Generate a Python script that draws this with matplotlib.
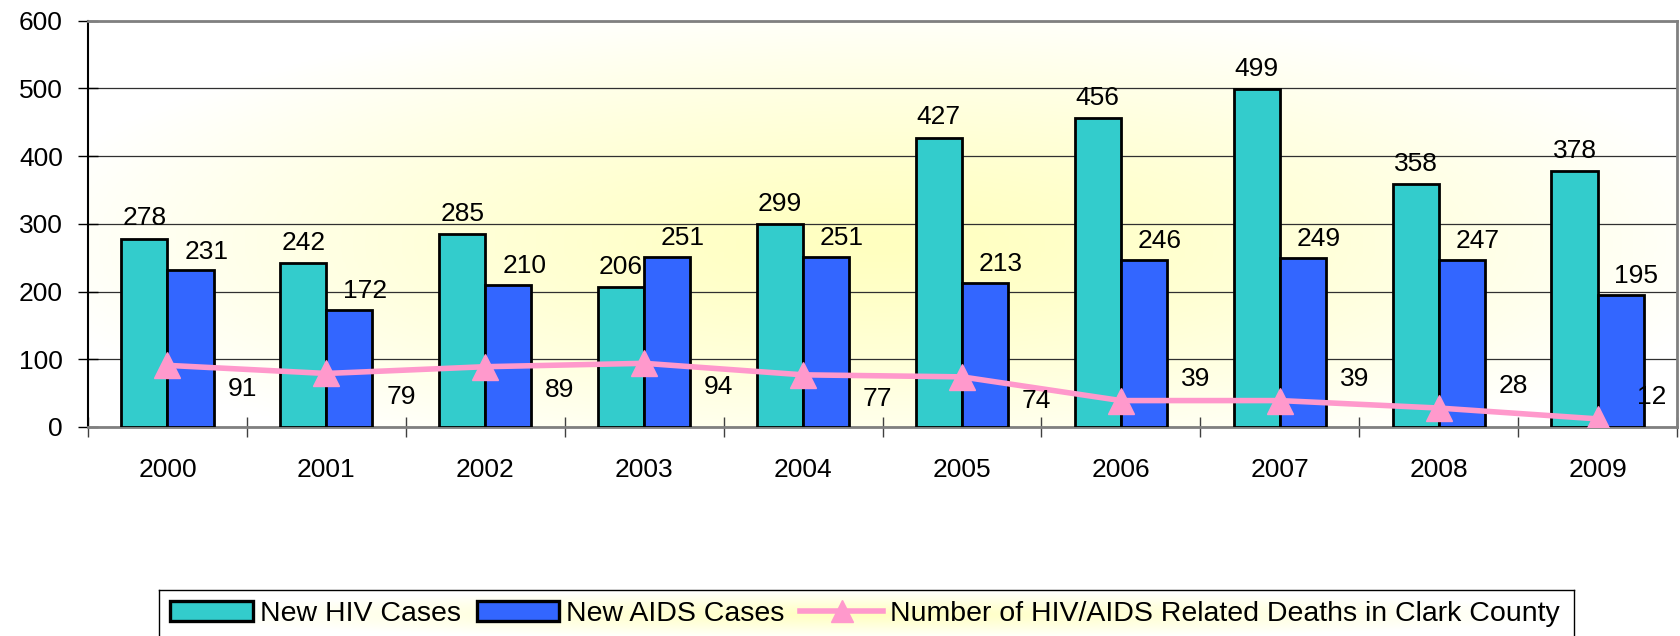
import numpy as np
import matplotlib
matplotlib.use('Agg')
import matplotlib.pyplot as plt
from matplotlib.patches import Patch
from matplotlib.lines import Line2D
from matplotlib.colors import LinearSegmentedColormap

plt.rcParams['font.family'] = ['Liberation Sans', 'DejaVu Sans']

years = ['2000', '2001', '2002', '2003', '2004', '2005', '2006', '2007', '2008', '2009']
hiv_cases = [278, 242, 285, 206, 299, 427, 456, 499, 358, 378]
aids_cases = [231, 172, 210, 251, 251, 213, 246, 249, 247, 195]
deaths = [91, 79, 89, 94, 77, 74, 39, 39, 28, 12]

TEAL = '#33CCCC'
BLUE = '#3366FF'
PINK = '#FF99CC'
FS = 19

W, H = 1680, 636
fig = plt.figure(figsize=(W / 100, H / 100), dpi=100)
ax = fig.add_axes([88 / W, 1 - 427 / H, (1677 - 88) / W, (427 - 20.5) / H])

# pale yellow glow in the plot area
cmap = LinearSegmentedColormap.from_list('glow', ['#FFFFC0', '#FFFFFF'])
gx, gy = np.meshgrid(np.linspace(0, 1, 400), np.linspace(0, 1, 200))
r = np.sqrt(((gx - 0.5) / 0.55) ** 2 + ((gy - 0.55) / 0.6) ** 2)
ax.imshow(np.clip(r, 0, 1) ** 1.3, cmap=cmap, extent=(-0.5, 9.5, 0, 600),
          aspect='auto', origin='upper', zorder=0)

x = np.arange(len(years))
bw = 0.29
ax.bar(x - bw / 2, hiv_cases, bw, color=TEAL, edgecolor='black', linewidth=2, zorder=3)
ax.bar(x + bw / 2, aids_cases, bw, color=BLUE, edgecolor='black', linewidth=2, zorder=3)
ax.plot(x, deaths, color=PINK, lw=4, marker='^', ms=19, zorder=5)

for i in range(len(years)):
    ax.text(x[i] - bw / 2, hiv_cases[i] + 30, str(hiv_cases[i]), ha='center', va='center', fontsize=FS, zorder=6)
    ax.text(x[i] + bw / 2 + 0.1, aids_cases[i] + 28, str(aids_cases[i]), ha='center', va='center', fontsize=FS, zorder=6)
    dy = -35 if deaths[i] > 50 else 32
    xl = min(x[i] + 0.47, 9.5 - 0.16)
    ax.text(xl, deaths[i] + dy, str(deaths[i]), ha='center', va='center', fontsize=FS, zorder=6)

ax.set_xlim(-0.5, 9.5)
ax.set_ylim(0, 600)
ax.set_yticks(range(0, 601, 100))
ax.set_xticks(x)
ax.set_xticklabels(years)
ax.set_xticks(np.arange(-0.5, 10, 1), minor=True)
ax.tick_params(axis='x', which='major', length=0, pad=22, labelsize=FS)
ax.tick_params(axis='x', which='minor', length=14, width=1, color='#404040', direction='inout')
ax.tick_params(axis='y', length=14, width=1, pad=11, labelsize=FS, direction='inout')
ax.yaxis.grid(True, color='#303030', lw=0.9, zorder=1)
ax.set_axisbelow(True)

for s in ['top', 'right', 'bottom']:
    ax.spines[s].set_color('#808080')
    ax.spines[s].set_linewidth(2)
ax.spines['left'].set_color('black')
ax.spines['left'].set_linewidth(1.5)

# legend box with its own glow
lax = fig.add_axes([159 / W, -0.004, (1574 - 159) / W, 49 / H])
lax.imshow(np.clip(np.sqrt(((gx - 0.5) / 0.5) ** 2 + ((gy - 0.5) / 0.5) ** 2), 0, 1),
           cmap=cmap, extent=(0, 1, 0, 1), aspect='auto', zorder=0)
lax.set_xticks([])
lax.set_yticks([])
for s in lax.spines.values():
    s.set_color('black')
    s.set_linewidth(1)

handles = [Patch(facecolor=TEAL, edgecolor='black', lw=2.4),
           Patch(facecolor=BLUE, edgecolor='black', lw=2.4),
           Line2D([], [], color=PINK, lw=4, marker='^', ms=16)]
labels = ['New HIV Cases', 'New AIDS Cases', 'Number of HIV/AIDS Related Deaths in Clark County']
lax.legend(handles, labels, loc='center left', bbox_to_anchor=(0, 0.5), ncol=3, frameon=False,
           fontsize=20.5, handlelength=2.9, handleheight=0.7, handletextpad=0.25,
           columnspacing=0.55, borderpad=0, borderaxespad=0.4)

fig.savefig('out.png', dpi=100)
